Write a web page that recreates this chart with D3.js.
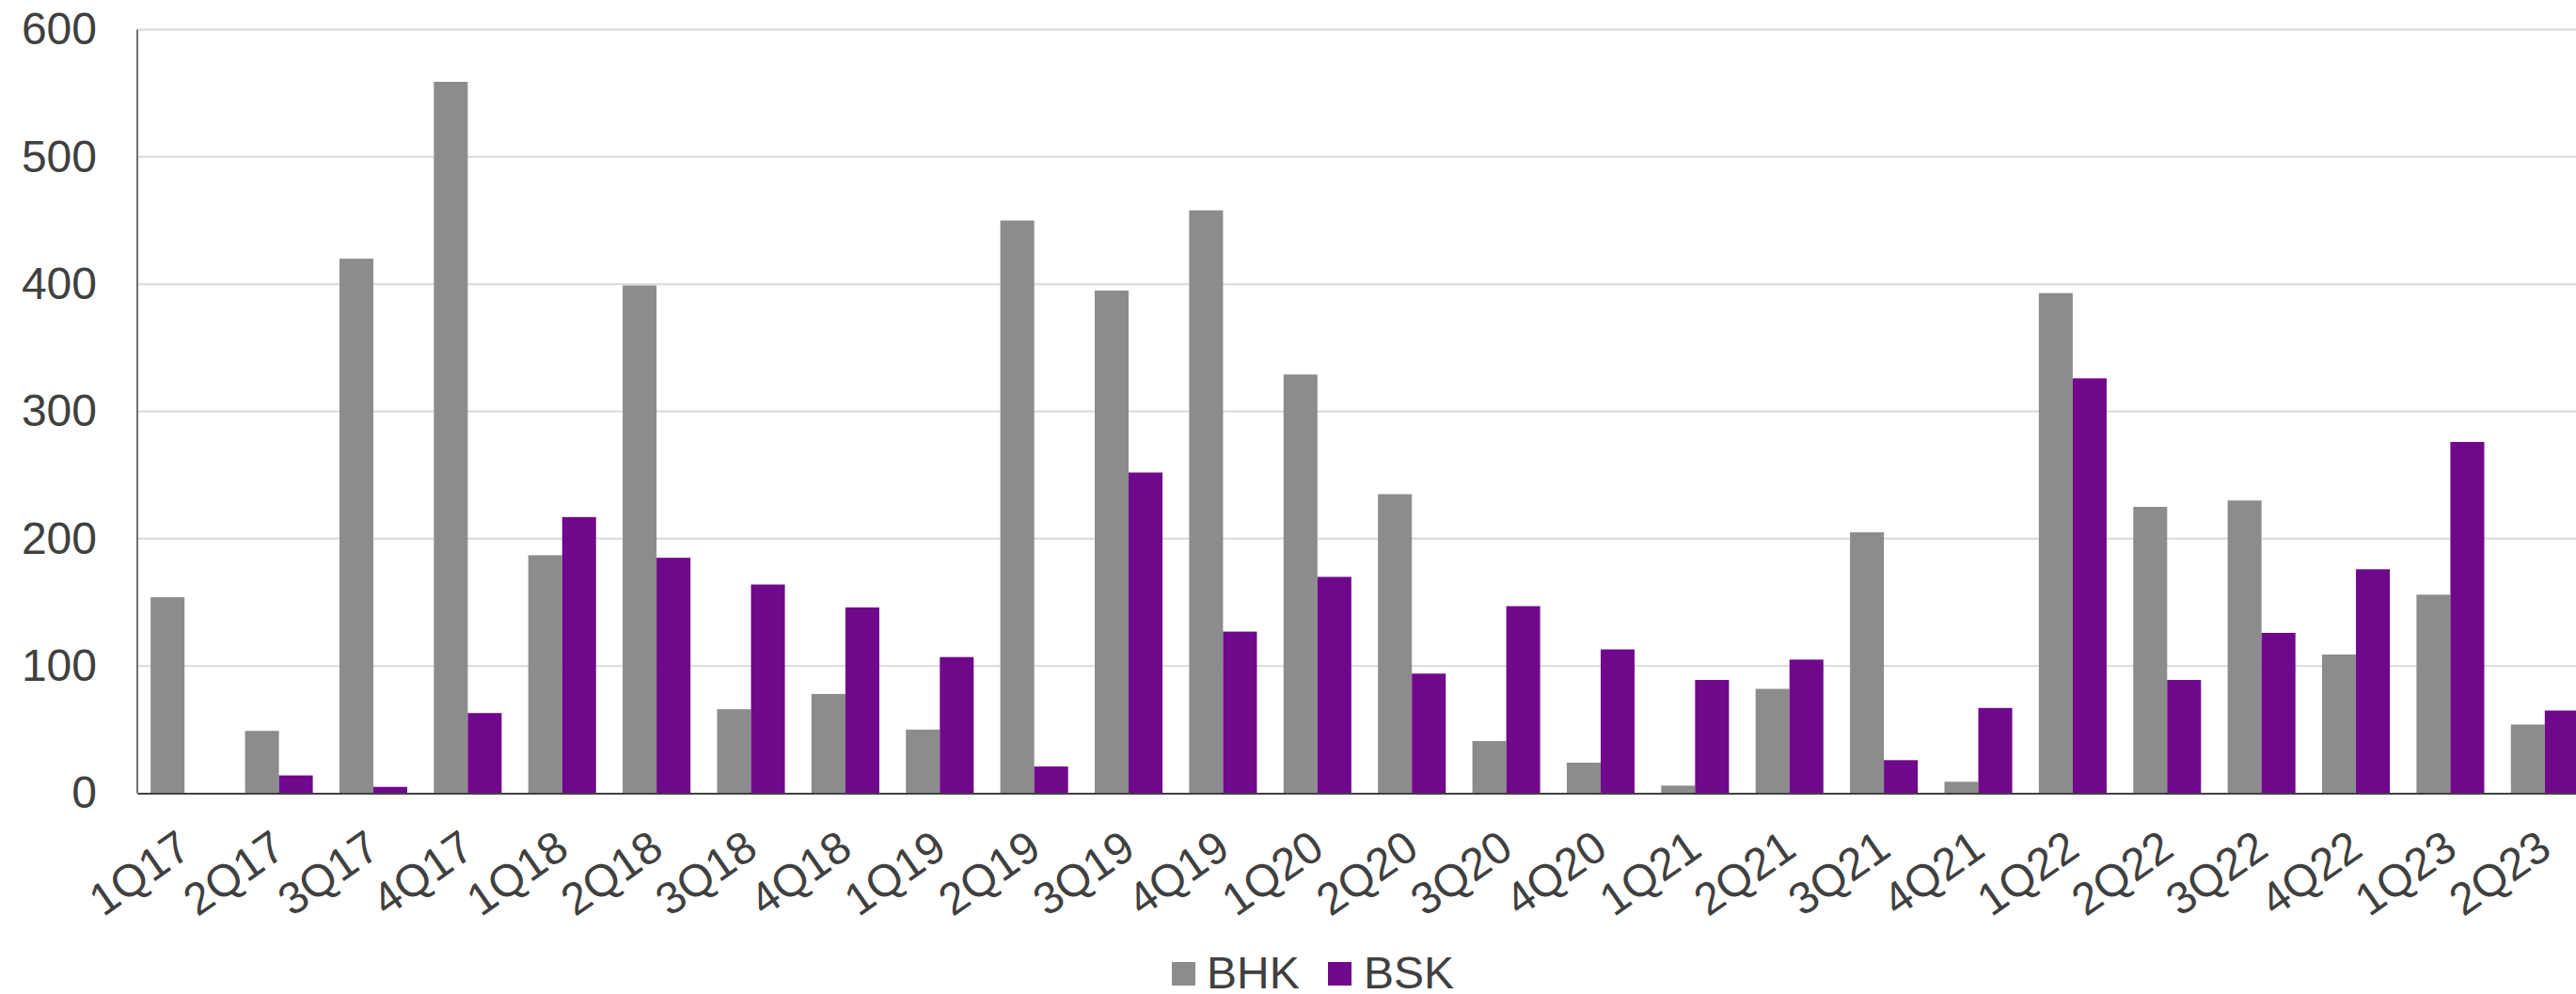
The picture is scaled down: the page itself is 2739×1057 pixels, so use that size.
<!DOCTYPE html>
<html>
<head>
<meta charset="utf-8">
<script src="https://cdn.jsdelivr.net/npm/d3@7"></script>
<style>
  html, body { margin: 0; padding: 0; background: #ffffff; }
  svg { display: block; }
  text { font-family: "Liberation Sans", Arial, sans-serif; fill: #404040; }
</style>
</head>
<body>
<svg id="chart" width="2739" height="1057"></svg>
<script>
// Quarterly figures for BHK and BSK
const quarters = ["1Q17","2Q17","3Q17","4Q17","1Q18","2Q18","3Q18","4Q18","1Q19","2Q19","3Q19","4Q19",
                  "1Q20","2Q20","3Q20","4Q20","1Q21","2Q21","3Q21","4Q21","1Q22","2Q22","3Q22","4Q22","1Q23","2Q23"];
const seriesNames = ["BHK", "BSK"];
const bhk = [154, 49, 420, 559, 187, 399, 66, 78, 50, 450, 395, 458, 329, 235, 41, 24, 6, 82, 205, 9, 393, 225, 230, 109, 156, 54];
const bsk = [0, 14, 5, 63, 217, 185, 164, 146, 107, 21, 252, 127, 170, 94, 147, 113, 89, 105, 26, 67, 326, 89, 126, 176, 276, 65];
const yTicks = [0, 100, 200, 300, 400, 500, 600];
const colors = {BHK: "#8c8c8c", BSK: "#70088c"};

(function draw() {
  const rows = quarters.map((q, i) => ({quarter: q, BHK: bhk[i], BSK: bsk[i]}));

  const svg = d3.select("#chart");
  const plotLeft = 146, plotRight = 2756, plotTop = 31.5, plotBottom = 843.5;

  const x = d3.scaleBand().domain(quarters).range([plotLeft, plotRight]).padding(0);
  const xs = d3.scaleBand().domain(seriesNames)
    .range([x.bandwidth() * 0.141, x.bandwidth() * 0.859]).padding(0);
  const y = d3.scaleLinear().domain([0, 600]).range([plotBottom, plotTop]);

  // horizontal gridlines
  svg.append("g")
    .selectAll("line")
    .data(yTicks.filter(d => d > 0))
    .join("line")
    .attr("x1", plotLeft).attr("x2", 2739)
    .attr("y1", d => y(d)).attr("y2", d => y(d))
    .attr("stroke", "#d9d9d9").attr("stroke-width", 2);

  // y-axis tick labels
  const yAxis = d3.axisLeft(y).tickValues(yTicks).tickSize(0).tickPadding(43);
  const gy = svg.append("g").attr("transform", `translate(${plotLeft},0)`).call(yAxis);
  gy.select(".domain").remove();
  gy.selectAll("text")
    .style("font-size", "48px")
    .style("font-family", "'Liberation Sans', Arial, sans-serif")
    .attr("fill", "#404040");

  // bars
  svg.append("g")
    .selectAll("g")
    .data(rows)
    .join("g")
    .attr("transform", d => `translate(${x(d.quarter)},0)`)
    .selectAll("rect")
    .data(d => seriesNames.map(s => ({key: s, value: d[s]})))
    .join("rect")
    .attr("x", d => xs(d.key))
    .attr("width", xs.bandwidth())
    .attr("y", d => y(d.value))
    .attr("height", d => y(0) - y(d.value))
    .attr("fill", d => colors[d.key]);

  // axis lines
  svg.append("line")
    .attr("x1", plotLeft).attr("x2", plotLeft)
    .attr("y1", plotTop).attr("y2", plotBottom)
    .attr("stroke", "#404040").attr("stroke-width", 1.5);

  const xAxis = d3.axisBottom(x).tickSize(0).tickPadding(0);
  const gx = svg.append("g").attr("transform", `translate(0,${plotBottom})`).call(xAxis);
  gx.select(".domain").attr("stroke", "#404040").attr("stroke-width", 2);
  gx.selectAll("text")
    .style("font-size", "48px")
    .style("font-family", "'Liberation Sans', Arial, sans-serif")
    .attr("fill", "#404040")
    .attr("text-anchor", "end")
    .attr("y", 0).attr("x", 0).attr("dy", "0.35em")
    .attr("transform", "translate(0,51) rotate(-35)");

  // legend
  const legendItems = [
    {name: "BHK", sx: 1246, tx: 1283},
    {name: "BSK", sx: 1412, tx: 1450}
  ];
  const lg = svg.append("g");
  lg.selectAll("rect")
    .data(legendItems)
    .join("rect")
    .attr("x", d => d.sx).attr("y", 1023)
    .attr("width", 25).attr("height", 25)
    .attr("fill", d => colors[d.name]);
  lg.selectAll("text")
    .data(legendItems)
    .join("text")
    .attr("x", d => d.tx).attr("y", 1051)
    .style("font-size", "48px")
    .text(d => d.name);
})();
</script>
</body>
</html>
